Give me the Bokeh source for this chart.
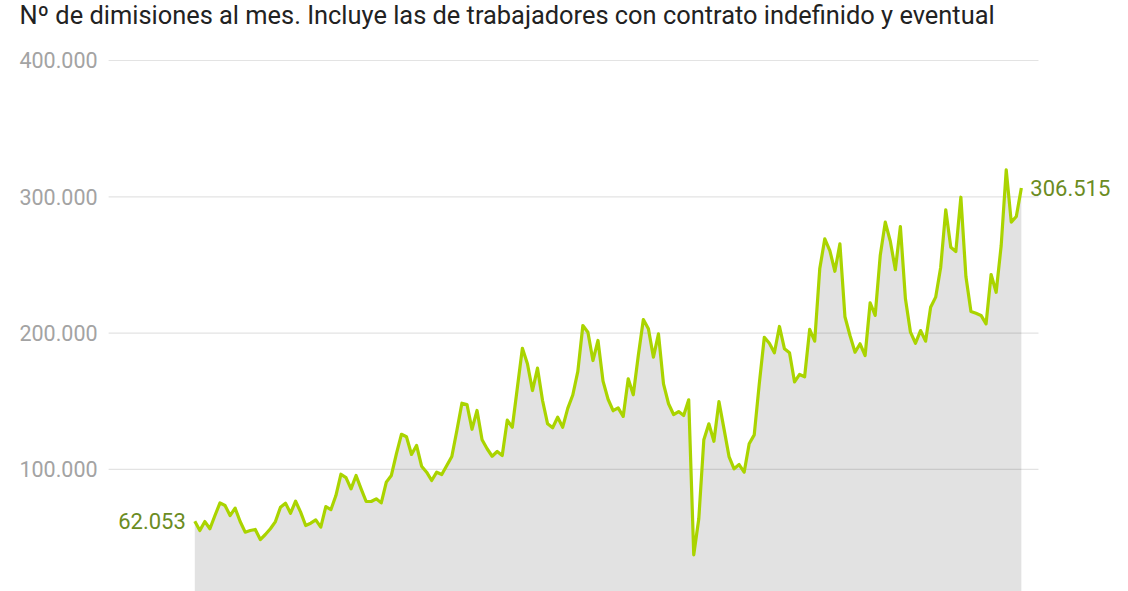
from bokeh.plotting import figure
from bokeh.models import ColumnDataSource, Range1d
from bokeh.core.properties import value
from bokeh.embed import file_html
from bokeh.resources import INLINE

TITLE = "Nº de dimisiones al mes. Incluye las de trabajadores con contrato indefinido y eventual"

# Monthly resignations (Jan 2012 - Sep 2025)
dimisiones = [
    62053, 55200, 61800, 56500, 66200, 75500, 73600, 66200, 71600, 61800, 54000, 55200,
    56000, 48600, 52300, 56500, 61800, 72300, 75300, 67900, 76700, 68700, 58900, 60600,
    63000, 57700, 72800, 70500, 80900, 96500, 94000, 85800, 95600, 85800, 76500, 76500,
    78500, 75500, 90700, 95600, 111500, 125800, 124000, 111000, 117600, 102400, 98000, 91900,
    98000, 96300, 102900, 109500, 128600, 148600, 147700, 129500, 143300, 121800, 115200, 109700,
    113200, 110200, 136200, 131000, 160000, 188900, 177500, 157900, 174300, 150600, 133500, 130600,
    138300, 131000, 144800, 154600, 172000, 205600, 200700, 179900, 194600, 164800, 151500, 143100,
    145200, 138900, 166500, 154800, 183600, 210000, 203200, 182400, 199500, 162800, 148200, 140300,
    142500, 139600, 151100, 37400, 63800, 121800, 133500, 120700, 149800, 129800, 109500, 100500,
    103600, 98000, 118800, 125400, 162800, 197000, 192600, 185600, 204900, 188500, 185600, 164200,
    169700, 168000, 202800, 194100, 247200, 269200, 260600, 245400, 265500, 212000, 198300, 186000,
    192200, 183600, 222300, 213000, 256900, 281400, 267400, 246500, 278200, 225200, 200700, 192600,
    201900, 194100, 219000, 226400, 248400, 290500, 263000, 259900, 299700, 241500, 215900, 214600,
    213000, 206800, 243000, 230000, 264300, 319800, 281400, 285600, 306515,
]

tick_values = [100000, 200000, 300000, 400000]
tick_labels = ["100.000", "200.000", "300.000", "400.000"]

def fmt(v):
    return f"{v:,}".replace(",", ".")

n = len(dimisiones)
xs = list(range(n))

FONT = "Roboto"
LINE_COLOR = "#aad400"
LABEL_COLOR = "#6b8c1f"
AREA_COLOR = "#e2e2e2"
AXIS_TEXT = "#a3a3a3"

# layout constants (in index units / value units)
X_START, X_END = -38.55, 185.26
Y_START, Y_END = 10490, 444000
LABEL_X = -34.8
GRID_X0, GRID_X1 = -17.1, 167.4
TITLE_Y = 433700

p = figure(width=1128, height=591, output_backend="svg", toolbar_location=None,
           x_axis_type=None, y_axis_type=None,
           x_range=Range1d(X_START, X_END), y_range=Range1d(Y_START, Y_END),
           min_border=0, min_border_left=0, min_border_right=0,
           min_border_top=0, min_border_bottom=0)
p.outline_line_color = None
p.grid.visible = False
p.background_fill_color = "white"
p.border_fill_color = "white"

src = ColumnDataSource(dict(x=xs, y=dimisiones, base=[0] * n))

p.varea(x="x", y1="base", y2="y", source=src, fill_color=AREA_COLOR)

grid_src = ColumnDataSource(dict(x0=[GRID_X0] * len(tick_values), x1=[GRID_X1] * len(tick_values),
                                 y=tick_values, label=tick_labels, lx=[LABEL_X] * len(tick_values)))
p.segment(x0="x0", x1="x1", y0="y", y1="y", source=grid_src, line_color="black",
          line_alpha=0.11, line_width=1.2)
p.text(x="lx", y="y", text="label", source=grid_src, text_font=value(FONT),
       text_font_size="21.5px", text_color=AXIS_TEXT, text_baseline="middle", text_align="left")

p.line(x="x", y="y", source=src, line_color=LINE_COLOR, line_width=3.2, line_join="round")

p.text(x=[0], y=[dimisiones[0]], text=[fmt(dimisiones[0])], text_font=value(FONT),
       text_font_size="22px", text_color=LABEL_COLOR, text_baseline="middle",
       text_align="right", x_offset=-9)
p.text(x=[n - 1], y=[dimisiones[-1]], text=[fmt(dimisiones[-1])], text_font=value(FONT),
       text_font_size="22px", text_color=LABEL_COLOR, text_baseline="middle",
       text_align="left", x_offset=9)

p.text(x=[LABEL_X], y=[TITLE_Y], text=[TITLE], text_font=value(FONT),
       text_font_size="25.4px", text_color="#222222", text_baseline="alphabetic",
       text_align="left")

open("out.html", "w").write(file_html(p, INLINE))
